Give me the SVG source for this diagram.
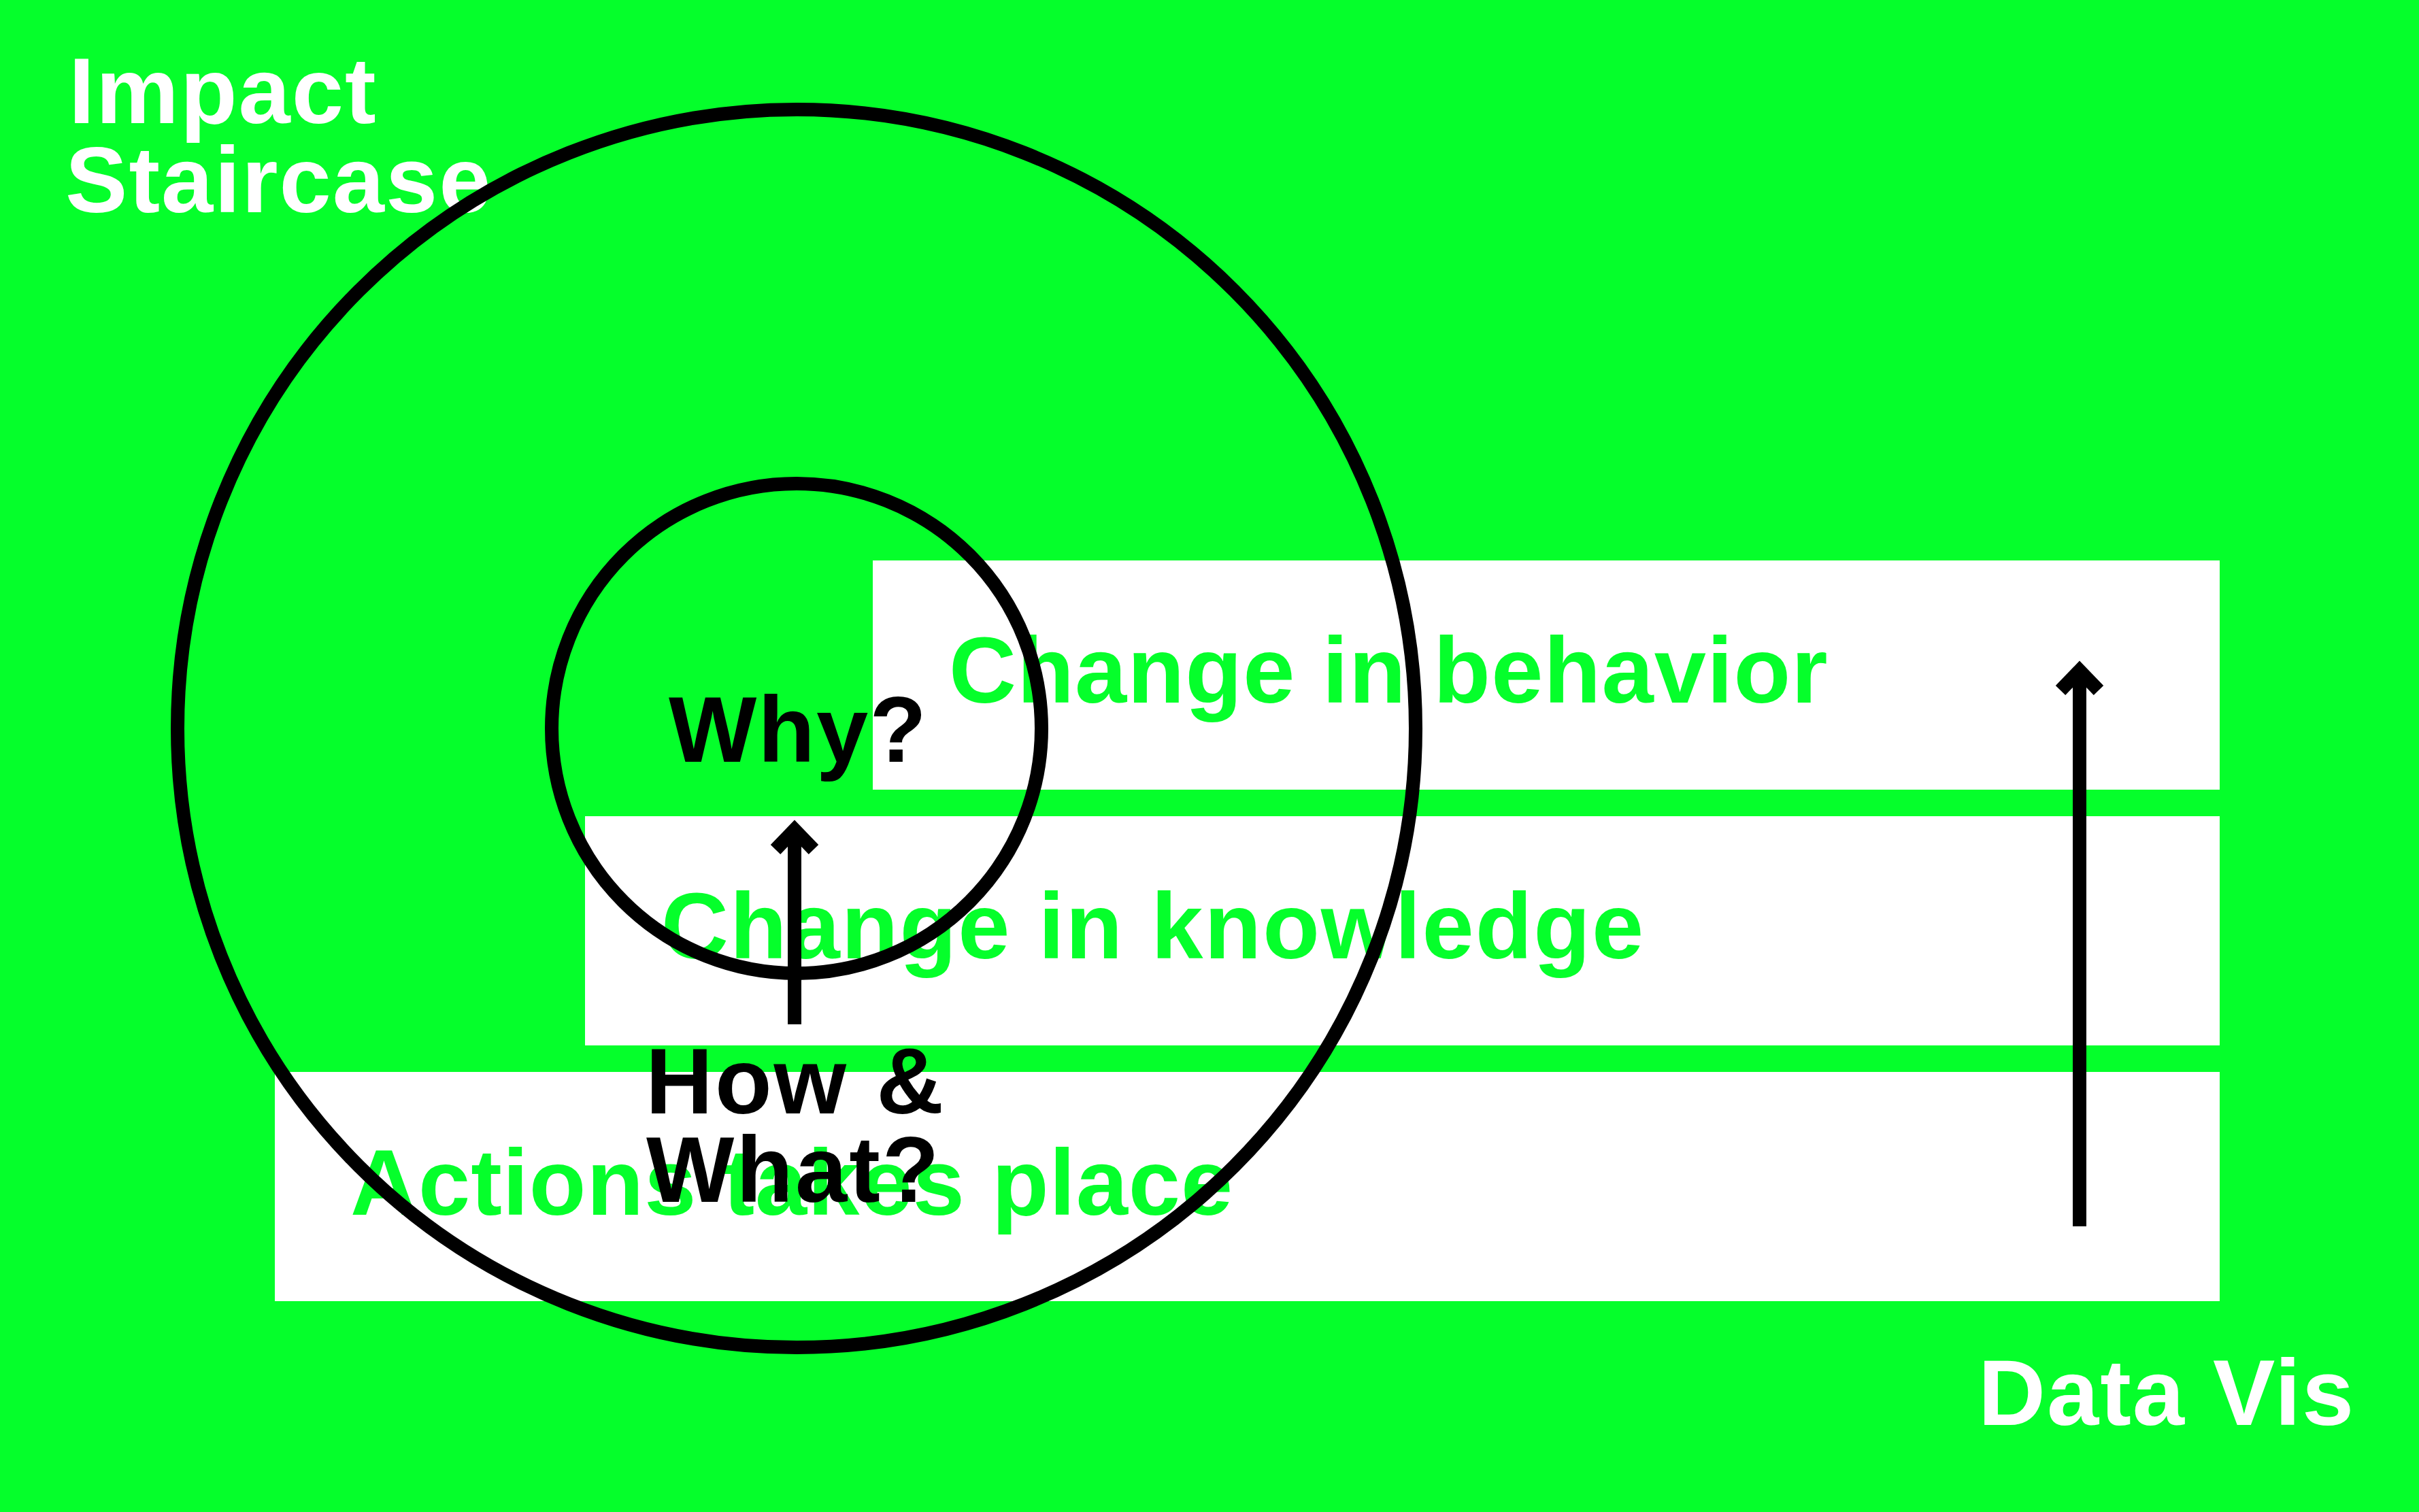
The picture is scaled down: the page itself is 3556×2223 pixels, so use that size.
<svg xmlns="http://www.w3.org/2000/svg" width="3556" height="2223" viewBox="0 0 3556 2223">
<defs>
<style>
.t{font-family:"Liberation Sans",Arial,sans-serif;font-weight:bold;font-size:137px;letter-spacing:2px}
.w{fill:#ffffff}
.g{fill:#05FF2B}
.k{fill:#000000}
.box{fill:#ffffff}
.ring{fill:none;stroke:#000;stroke-width:20}
.ar{fill:none;stroke:#000;stroke-width:20;stroke-linejoin:miter;stroke-linecap:butt}
</style>
</defs>
<rect x="0" y="0" width="3556" height="2223" fill="#05FF2B"/>
<g id="title">
<text class="t w" x="101" y="181">Impact</text>
<text class="t w" x="96" y="312">Staircase</text>
</g>
<g id="step-behavior">
<rect class="box" x="1283" y="824" width="1980" height="337"/>
<text class="t g" x="1395" y="1033" style="letter-spacing:1.2px">Change in behavior</text>
</g>
<g id="step-knowledge">
<rect class="box" x="860" y="1200" width="2403" height="337"/>
<text class="t g" x="972" y="1409">Change in knowledge</text>
</g>
<g id="step-actions">
<rect class="box" x="404" y="1576" width="2859" height="337"/>
<text class="t g" x="515" y="1786" style="letter-spacing:1px">Actions takes place</text>
</g>
<g id="outer-circle">
<circle class="ring" cx="1171" cy="1071" r="910"/>
</g>
<g id="inner-circle">
<circle class="ring" cx="1171" cy="1071" r="360"/>
</g>
<g id="connectors">
<line class="ar" x1="1168" y1="1506" x2="1168" y2="1222"/>
<polyline class="ar" points="1140,1249 1168,1220 1196,1249"/>
<line class="ar" x1="3057" y1="1803" x2="3057" y2="988"/>
<polyline class="ar" points="3029,1015 3057,986 3085,1015"/>
</g>
<g id="why">
<text class="t k" x="983" y="1120">Why?</text>
</g>
<g id="how-what">
<text class="t k" x="949" y="1637" style="letter-spacing:3px">How &amp;</text>
<text class="t k" x="950" y="1767" style="letter-spacing:3px">What?</text>
</g>
<g id="data-vis">
<text class="t w" x="2908" y="2095">Data Vis</text>
</g>
</svg>
